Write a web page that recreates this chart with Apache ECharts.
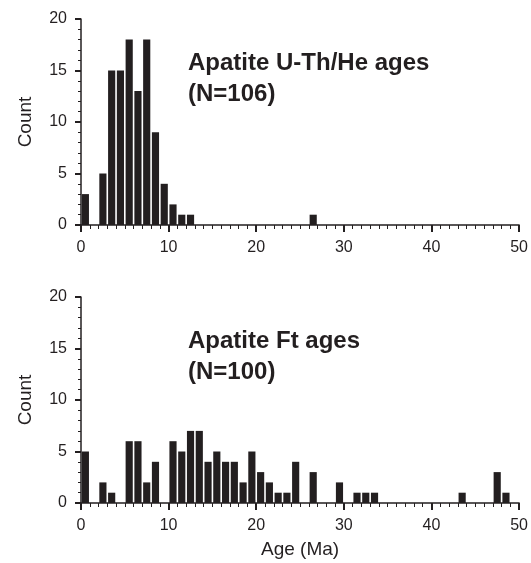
<!DOCTYPE html>
<html>
<head>
<meta charset="utf-8">
<script src="https://cdn.jsdelivr.net/npm/echarts@6/dist/echarts.min.js"></script>
<style>
  html, body { margin: 0; padding: 0; background: #fff; }
  #chart { width: 531px; height: 563px; }
</style>
</head>
<body>
<div id="chart"></div>
<script>
// 1 Ma bins from 0 to 50
const binWidth = 1
const uthHeCounts = [3, 0, 5, 15, 15, 18, 13, 18, 9, 4, 2, 1, 1, 0, 0, 0, 0, 0, 0, 0,
  0, 0, 0, 0, 0, 0, 1, 0, 0, 0, 0, 0, 0, 0, 0, 0, 0, 0, 0, 0,
  0, 0, 0, 0, 0, 0, 0, 0, 0, 0]
const ftCounts = [5, 0, 2, 1, 0, 6, 6, 2, 4, 0, 6, 5, 7, 7, 4, 5, 4, 4, 2, 5,
  3, 2, 1, 1, 4, 0, 3, 0, 0, 2, 0, 1, 1, 1, 0, 0, 0, 0, 0, 0,
  0, 0, 0, 1, 0, 0, 0, 3, 1, 0]
const titles = ['Apatite U-Th/He ages\n(N=106)', 'Apatite Ft ages\n(N=100)']
const xTitle = 'Age (Ma)'
const yTitle = 'Count'

const ink = '#231f20'
const font = 'Liberation Sans, Arial, Helvetica, sans-serif'

const toBins = counts => counts
  .map((c, i) => [i * binWidth, (i + 1) * binWidth, c])
  .filter(d => d[2] > 0)

function renderBar(params, api) {
  const p0 = api.coord([api.value(0), 0])
  const p1 = api.coord([api.value(1), api.value(2)])
  return {
    type: 'rect',
    shape: { x: p0[0] + 0.8, y: p1[1], width: p1[0] - p0[0] - 1.6, height: p0[1] - p1[1] },
    style: { fill: ink },
  }
}

const xAxisBase = (idx, showName) => ({
  type: 'value', gridIndex: idx, min: 0, max: 50, interval: 10,
  axisLine: { lineStyle: { color: ink, width: 1.5 } },
  axisTick: { length: 7, lineStyle: { color: ink, width: 2 } },
  minorTick: { show: true, splitNumber: 10, length: 4, lineStyle: { color: ink, width: 1 } },
  axisLabel: { color: ink, fontSize: 16, fontFamily: font, margin: 15 },
  splitLine: { show: false },
  name: showName ? xTitle : '', nameLocation: 'middle', nameGap: 37,
  nameTextStyle: { color: ink, fontSize: 19, fontFamily: font },
})

const yAxisBase = idx => ({
  type: 'value', gridIndex: idx, min: 0, max: 20, interval: 5,
  axisLine: { show: true, lineStyle: { color: ink, width: 1.5 } },
  axisTick: { show: true, length: 6, lineStyle: { color: ink, width: 2 } },
  minorTick: { show: true, splitNumber: 5, length: 3, lineStyle: { color: ink, width: 1 } },
  axisLabel: { color: ink, fontSize: 16, fontFamily: font, margin: 14, padding: [5, 0, 0, 0] },
  splitLine: { show: false },
  name: yTitle, nameLocation: 'middle', nameGap: 46, nameRotate: 90,
  nameTextStyle: { color: ink, fontSize: 19, fontFamily: font },
})

const titleStyle = { color: ink, fontSize: 24, fontWeight: 'bold', fontFamily: font, lineHeight: 31 }

const chart = echarts.init(document.getElementById('chart'))
chart.setOption({
  animation: false,
  title: [
    { text: titles[0], left: 188, top: 48, padding: 0, textStyle: titleStyle },
    { text: titles[1], left: 188, top: 326, padding: 0, textStyle: titleStyle },
  ],
  grid: [
    { left: 81, top: 19, width: 443, height: 206 },
    { left: 81, top: 297, width: 443, height: 206 },
  ],
  xAxis: [xAxisBase(0, false), xAxisBase(1, true)],
  yAxis: [yAxisBase(0), yAxisBase(1)],
  series: [
    { type: 'custom', xAxisIndex: 0, yAxisIndex: 0, renderItem: renderBar, data: toBins(uthHeCounts) },
    { type: 'custom', xAxisIndex: 1, yAxisIndex: 1, renderItem: renderBar, data: toBins(ftCounts) },
  ],
})
</script>
</body>
</html>
